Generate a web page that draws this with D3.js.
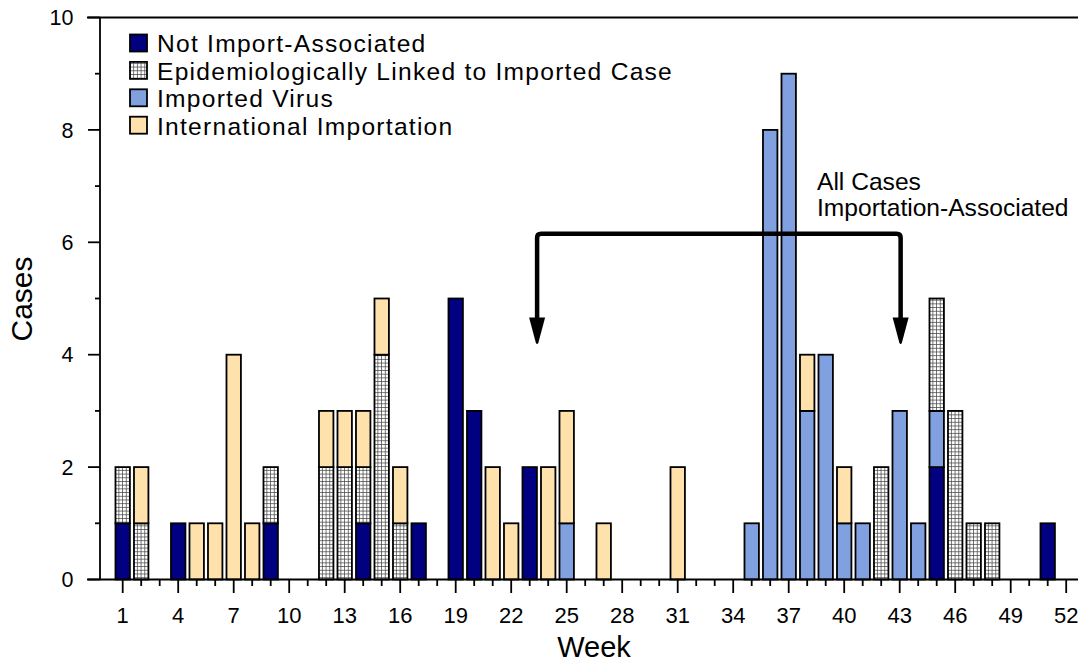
<!DOCTYPE html>
<html><head><meta charset="utf-8">
<script src="https://cdn.jsdelivr.net/npm/d3@7"></script>
<style>
html,body{margin:0;padding:0;background:#fff;}
svg{display:block;font-family:"Liberation Sans",Arial,Helvetica,sans-serif;}
</style></head>
<body>
<svg id="chart" width="1078" height="662"></svg>
<script>
// ---- data ----
const weeks = d3.range(1, 53);
const notImport     = [1,0,0,1,0,0,0,0,1,0, 0,0,0,1,0,0,1,0,5,3, 0,0,2,0,0,0,0,0,0,0, 0,0,0,0,0,0,0,0,0,0, 0,0,0,0,2,0,0,0,0,0, 1,0];
const importedVirus = [0,0,0,0,0,0,0,0,0,0, 0,0,0,0,0,0,0,0,0,0, 0,0,0,0,1,0,0,0,0,0, 0,0,0,0,1,8,9,3,4,1, 1,0,3,1,1,0,0,0,0,0, 0,0];
const epiLinked     = [1,1,0,0,0,0,0,0,1,0, 0,2,2,1,4,1,0,0,0,0, 0,0,0,0,0,0,0,0,0,0, 0,0,0,0,0,0,0,0,0,0, 0,2,0,0,2,3,1,1,0,0, 0,0];
const intlImport    = [0,1,0,0,1,1,4,1,0,0, 0,1,1,1,1,1,0,0,0,0, 2,1,0,2,2,0,1,0,0,0, 2,0,0,0,0,0,0,1,0,1, 0,0,0,0,0,0,0,0,0,0, 0,0];

const seriesKeys   = ["notImport","importedVirus","epiLinked","intlImport"];
const legendLabels = ["Not Import-Associated","Epidemiologically Linked to Imported Case","Imported Virus","International Importation"];
const legendKeys   = ["notImport","epiLinked","importedVirus","intlImport"];
const xTickLabels  = d3.range(1, 53, 3);
const yTickLabels  = [0,2,4,6,8,10];
const annotationLines = ["All Cases","Importation-Associated"];
const arrowWeeks = [23.4, 43.05];
const arrowTop = 6.15, arrowTip = 4.18;

const colors = {notImport:"#000080", importedVirus:"#80a0e0", epiLinked:"url(#hatch)", intlImport:"#ffe1ab"};

// ---- layout ----
const svg = d3.select("#chart");
const x0 = 100, yBase = 579.5, yTop = 17.5;
const x = d3.scaleBand().domain(weeks).range([113.45, 1075.45]).paddingInner(0.22).paddingOuter(0.11);
const xc = w => x(w) + x.bandwidth()/2;
const xLin = d3.scaleLinear().domain([1,52]).range([xc(1), xc(52)]);
const y = d3.scaleLinear().domain([0,10]).range([yBase, yTop]);

// hatch pattern
const defs = svg.append("defs");
const pat = defs.append("pattern").attr("id","hatch").attr("patternUnits","userSpaceOnUse")
  .attr("width",3.7).attr("height",3.7);
pat.append("rect").attr("width",3.7).attr("height",3.7).attr("fill","#fff");
pat.append("path").attr("d","M0,0.4H3.7M0.4,0V3.7").attr("stroke","#444").attr("stroke-width",0.8);

// data table
const table = weeks.map((w,i)=>({week:w, notImport:notImport[i], importedVirus:importedVirus[i], epiLinked:epiLinked[i], intlImport:intlImport[i]}));
const stacked = d3.stack().keys(seriesKeys)(table);

// bars
svg.append("g").selectAll("g").data(stacked).join("g")
  .attr("fill", d=>colors[d.key])
  .selectAll("rect").data(d=>d.filter(s=>s[1]-s[0]>0)).join("rect")
  .attr("x", d=>x(d.data.week)).attr("width", x.bandwidth())
  .attr("y", d=>y(d[1])).attr("height", d=>y(d[0])-y(d[1]))
  .attr("stroke","#000").attr("stroke-width",1.8);

// axes
const axG = svg.append("g").attr("stroke","#000").attr("stroke-width",1.8).attr("fill","none");
axG.append("line").attr("x1",87).attr("x2",1078).attr("y1",yTop).attr("y2",yTop);
axG.append("line").attr("x1",87).attr("x2",1078).attr("y1",yBase).attr("y2",yBase);
axG.append("line").attr("x1",x0).attr("x2",x0).attr("y1",yTop).attr("y2",yBase);

// y axis ticks
const yg = svg.append("g").attr("transform",`translate(${x0},0)`);
d3.range(0,11).forEach(v=>{
  const major = v%2===0;
  yg.append("line").attr("x1", major?-12:-5).attr("x2",0).attr("y1",y(v)).attr("y2",y(v))
    .attr("stroke","#000").attr("stroke-width",1.8);
});
yg.selectAll("text.yl").data(yTickLabels).join("text").attr("class","yl")
  .attr("x",-26.5).attr("y",d=>y(d)).attr("dy","0.36em").attr("text-anchor","end")
  .attr("font-size",21.5).text(d=>d);

// x axis ticks
const xg = svg.append("g");
weeks.forEach(w=>{
  const major = (w-1)%3===0;
  xg.append("line").attr("x1",xc(w)).attr("x2",xc(w)).attr("y1",yBase).attr("y2",yBase+(major?13.5:6.5))
    .attr("stroke","#000").attr("stroke-width",1.8);
});
xg.selectAll("text.xl").data(xTickLabels).join("text").attr("class","xl")
  .attr("x",d=>xc(d)).attr("y",622.5).attr("text-anchor","middle").attr("font-size",22).text(d=>d);

// axis titles
svg.append("text").attr("x",594).attr("y",657).attr("text-anchor","middle").attr("font-size",29).text("Week");
svg.append("text").attr("transform","translate(32,299) rotate(-90)").attr("text-anchor","middle").attr("font-size",30).text("Cases");

// legend
const lg = svg.append("g");
legendKeys.forEach((k,i)=>{
  const cy = 43 + i*27.4;
  lg.append("rect").attr("x",130).attr("y",cy-8.5).attr("width",17).attr("height",17)
    .attr("fill",colors[k]).attr("stroke","#000").attr("stroke-width",1.8);
  lg.append("text").attr("x",157).attr("y",cy+9.3).attr("font-size",24.6).attr("letter-spacing",1.25).text(legendLabels[i]);
});

// annotation
const ax1 = xLin(arrowWeeks[0]), ax2 = xLin(arrowWeeks[1]);
const ay = y(arrowTop), tip = y(arrowTip);
const headH = 27, headW = 8;
const r = 4;
svg.append("path").attr("fill","none").attr("stroke","#000").attr("stroke-width",4.5).attr("stroke-linejoin","round")
  .attr("d",`M${ax1},${tip-headH+3}V${ay+r}Q${ax1},${ay} ${ax1+r},${ay}H${ax2-r}Q${ax2},${ay} ${ax2},${ay+r}V${tip-headH+3}`);
[ax1, ax2].forEach(ax=>{
  svg.append("path").attr("fill","#000")
    .attr("d",`M${ax-headW},${tip-headH}L${ax+headW},${tip-headH}L${ax+1.2},${tip-1.5}Q${ax},${tip+0.5} ${ax-1.2},${tip-1.5}Z`);
});
svg.append("g").selectAll("text").data(annotationLines).join("text")
  .attr("x",817).attr("y",(d,i)=>190+i*26).attr("font-size",24.6).text(d=>d);
</script>
</body></html>
